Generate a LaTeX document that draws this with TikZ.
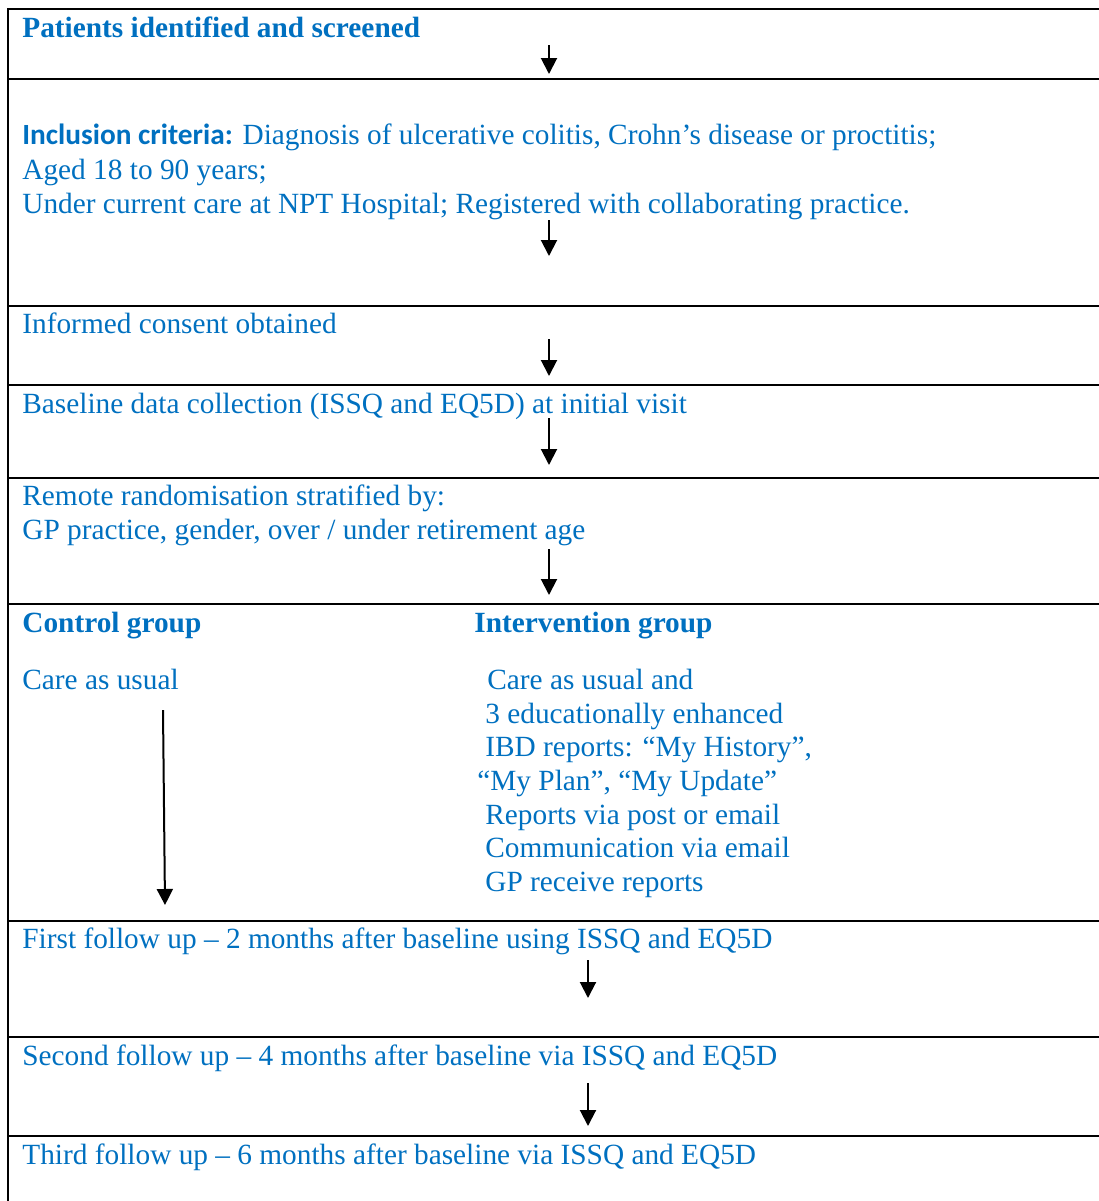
\documentclass[tikz,border=0pt]{standalone}
\usepackage{fontspec}
\setmainfont{Liberation Serif}
\newfontfamily\critfont{Carlito}
\usetikzlibrary{arrows.meta,positioning,calc}
\definecolor{wordblue}{RGB}{0,112,192}
\tikzstyle{frame} = [line width=1pt, black]
\tikzstyle{txt} = [text=wordblue, font=\fontsize{14.66}{17}\selectfont, anchor=base west, inner sep=0pt, align=left]
\tikzstyle{btxt} = [txt, font=\fontsize{14.66}{17}\selectfont\bfseries]
\tikzstyle{flow} = [-{Triangle[width=8pt,length=8pt]}, line width=1pt]

\begin{document}
\begin{tikzpicture}[x=0.5pt, y=-0.5pt]
    \useasboundingbox (0,0) rectangle (1099,1201);

    % frame of the table
    \draw[frame] (1099,9) -- (8,9) -- (8,1201);
    \foreach \y in {79,306,385,478,604,921,1037,1136}
      \draw[frame] (8,\y) -- (1099,\y);

    % screening
    \node[btxt] (screen) at (22,37) {Patients identified and screened};

    % inclusion
    \node[txt] (incl) at (22,144) {{\critfont\bfseries Inclusion criteria:} Diagnosis of ulcerative colitis, Crohn’s disease or proctitis;};
    \node[txt] (aged) at (22,179) {Aged 18 to 90 years;};
    \node[txt] (care) at (22,213) {Under current care at NPT Hospital; Registered with collaborating practice.};

    % consent, baseline, randomisation
    \node[txt] (consent) at (22,333) {Informed consent obtained};
    \node[txt] (base) at (22,413) {Baseline data collection (ISSQ and EQ5D) at initial visit};
    \node[txt] (rand) at (22,505) {Remote randomisation stratified by:};
    \node[txt] (strat) at (22,539) {GP practice, gender, over / under retirement age};

    % groups
    \node[btxt] (ctrl) at (22,632) {Control group};
    \node[btxt] (intv) at (474,632) {Intervention group};
    \node[txt] (usual) at (22,689) {Care as usual};
    \node[txt] (i1) at (487,689) {Care as usual and};
    \node[txt] (i2) at (485,723) {3 educationally enhanced};
    \node[txt] (i3) at (485,756) {IBD reports: “My History”,};
    \node[txt] (i4) at (477,790) {“My Plan”, “My Update”};
    \node[txt] (i5) at (485,824) {Reports via post or email};
    \node[txt] (i6) at (485,857) {Communication via email};
    \node[txt] (i7) at (485,891) {GP receive reports};

    % follow ups
    \node[txt] (fu1) at (22,948) {First follow up – 2 months after baseline using ISSQ and EQ5D};
    \node[txt] (fu2) at (22,1065) {Second follow up – 4 months after baseline via ISSQ and EQ5D};
    \node[txt] (fu3) at (22,1164) {Third follow up – 6 months after baseline via ISSQ and EQ5D};

    % arrows
    \coordinate (a1) at (549,45);   \coordinate (b1) at (549,74);
    \coordinate (a2) at (549,220);  \coordinate (b2) at (549,256);
    \coordinate (a3) at (549,339);  \coordinate (b3) at (549,376);
    \coordinate (a4) at (549,418);  \coordinate (b4) at (549,465);
    \coordinate (a5) at (549,549);  \coordinate (b5) at (549,595);
    \coordinate (a6) at (163,710);  \coordinate (b6) at (165,905);
    \coordinate (a7) at (588,960);  \coordinate (b7) at (588,998);
    \coordinate (a8) at (588,1083); \coordinate (b8) at (588,1126);
    \foreach \i in {1,...,8}
      \draw[flow] (a\i) -- (b\i);
\end{tikzpicture}
\end{document}
